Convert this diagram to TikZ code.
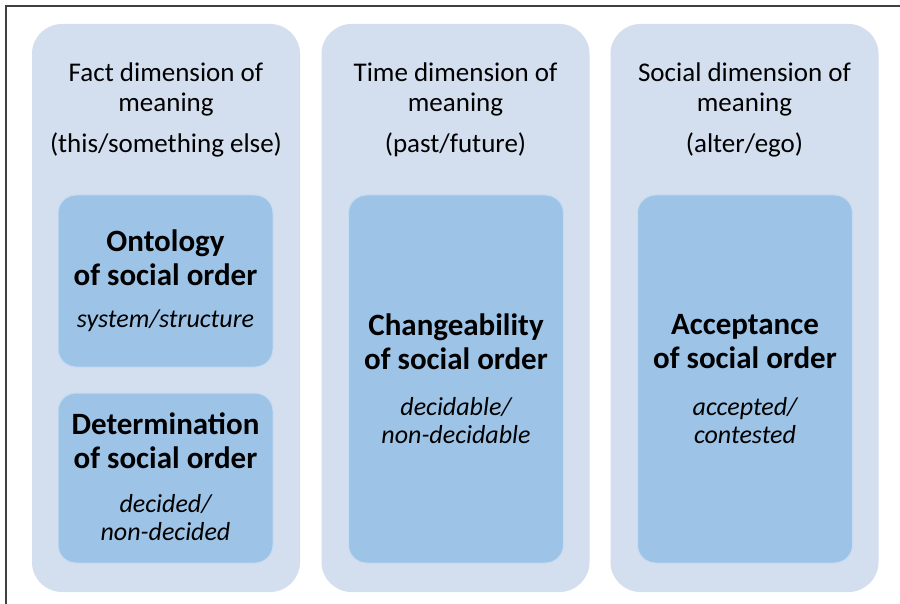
\documentclass[tikz,border=0pt]{standalone}
\usepackage{fontspec}
\setmainfont{Carlito}
\definecolor{outerfill}{HTML}{D3DEEF}
\definecolor{innerfill}{HTML}{9DC3E6}
\definecolor{inneredge}{HTML}{C6DCF2}
\definecolor{framecol}{HTML}{404040}
\tikzset{
  outerbox/.style={rectangle, rounded corners=30pt, fill=outerfill, draw=none,
    minimum width=268pt, minimum height=568pt, inner sep=0pt},
  innerbox/.style={rectangle, rounded corners=18pt, fill=innerfill, draw=inneredge, line width=1pt,
    minimum width=215pt, inner sep=0pt},
  header/.style={align=center, font=\fontsize{27}{30}\selectfont, inner sep=0pt},
  titletext/.style={align=center, font=\fontsize{31}{34}\selectfont\bfseries, inner sep=0pt},
  subtext/.style={align=center, font=\fontsize{26}{28}\selectfont\itshape, inner sep=0pt},
}
\begin{document}
\begin{tikzpicture}[x=1pt,y=-1pt]
\useasboundingbox (0,0) rectangle (900,604);
\fill[white] (0,0) rectangle (900,604);
\draw[framecol, line width=1.5pt] (6,604) -- (6,6) -- (900,6);

% outer columns
\node[outerbox] (o1) at (166,308) {};
\node[outerbox] (o2) at (455.5,308) {};
\node[outerbox] (o3) at (744.5,308) {};

% headers
\node[header] (h1) at (166,89) {Fact dimension of\\meaning};
\node[header] (p1) at (166,145) {(this/something else)};
\node[header] (h2) at (455.5,89) {Time dimension of\\meaning};
\node[header] (p2) at (455.5,145) {(past/future)};
\node[header] (h3) at (744.5,89) {Social dimension of\\meaning};
\node[header] (p3) at (744.5,145) {(alter/ego)};

% inner boxes
\node[innerbox, minimum height=172pt] (i1a) at (165.5,281) {};
\node[innerbox, minimum height=170pt] (i1b) at (165.5,478) {};
\node[innerbox, minimum height=368pt] (i2) at (456,379) {};
\node[innerbox, minimum height=368pt] (i3) at (745,379) {};

% texts
\node[titletext] (t1a) at (165.5,258) {Ontology\\of social order};
\node[subtext] (s1a) at (165.5,321) {system/structure};
\node[titletext] (t1b) at (165.5,441) {Determination\\of social order};
\node[subtext] (s1b) at (165.5,518) {decided/\\non-decided};
\node[titletext] (t2) at (456,342) {Changeability\\of social order};
\node[subtext] (s2) at (456,421) {decidable/\\non-decidable};
\node[titletext] (t3) at (745,342) {Acceptance\\of social order};
\node[subtext] (s3) at (745,421) {accepted/\\contested};
\end{tikzpicture}
\end{document}
